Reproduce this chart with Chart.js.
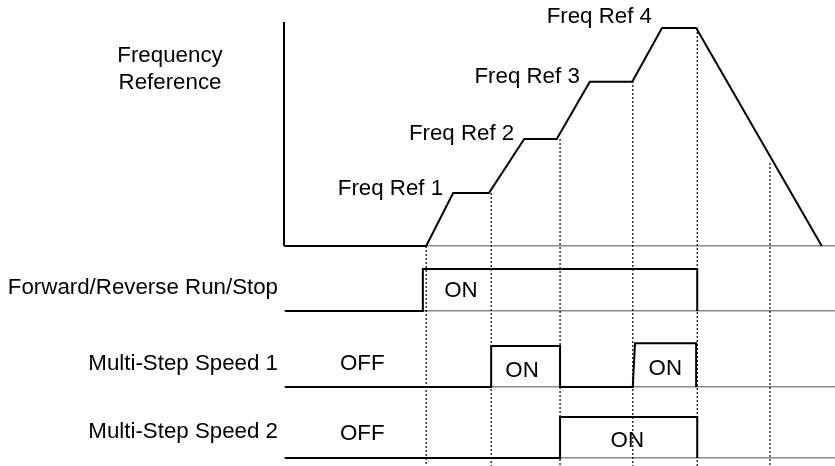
<!DOCTYPE html>
<html>
<head>
<meta charset="utf-8">
<script src="https://cdn.jsdelivr.net/npm/chart.js@4"></script>
<style>
  html, body { margin: 0; padding: 0; background: #fff; }
  #wrap { width: 835px; height: 466px; position: relative; }
</style>
</head>
<body>
<div id="wrap"><canvas id="timing"></canvas></div>
<script>
// time runs 0..100 across the plot
const markTimes = [25.8, 37.6, 50.1, 63.3, 75.0, 88.2];
const markTops = [0, 24.3, 49.1, 75.7, 100, 38.1];

// frequency reference in % of Freq Ref 4
const freqTimes = [0, 25.8, 30.7, 37.2, 43.6, 49.5, 55.5, 63.2, 68.6, 74.8, 97.6];
const freqValues = [0, 0, 24.3, 24.3, 49.1, 49.1, 75.3, 75.3, 100, 100, 0];
const freqAxisTop = 102.8;
const refNames = ["Freq Ref 1", "Freq Ref 2", "Freq Ref 3", "Freq Ref 4"];

// digital inputs (0 = OFF, 1 = ON)
const runTimes = [0.2, 25.2, 25.2, 75.0, 75.0];
const runLevels = [0, 0, 1, 1, 0];
const ms1Times = [0.2, 37.6, 37.6, 50.1, 50.1, 63.3, 63.7, 74.8, 74.8];
const ms1Levels = [0, 0, 1, 1, 0, 0, 1.07, 1.07, 0];
const ms2Times = [0.2, 50.1, 50.1, 75.0, 75.0];
const ms2Levels = [0, 0, 1, 1, 0];

const rowIds = ["run", "ms1", "ms2"];
const rowNames = ["Forward/Reverse Run/Stop", "Multi-Step Speed 1", "Multi-Step Speed 2"];

// ON / OFF captions
const stateText = ["OFF", "OFF", "ON", "ON", "ON", "ON"];
const stateRow = ["ms1", "ms2", "run", "ms1", "ms1", "ms2"];
const stateTimes = [14.2, 14.2, 32.1, 43.2, 69.2, 62.3];
const stateLevels = [0.41, 0.44, 0.33, 0.24, 0.29, 0.27];

// layout: every row gets its own full-height axis, shifted so its zero lands in place
const H = 466;
function rowRange(zeroPx, pxPerUnit) {
    return { min: -(H - zeroPx) / pxPerUnit, max: zeroPx / pxPerUnit };
}
const freqRange = rowRange(246, 2.18);
const runRange = rowRange(311, 42);
const ms1Range = rowRange(387, 41);
const ms2Range = rowRange(458, 41);

const refBaseline = [2, 1, 1, -5];
const rowNameLift = [17, 17, 20];
const FONT = '22.3px "Liberation Sans", Arial, sans-serif';

function pts(xs, ys) {
    return xs.map((x, i) => ({ x: x, y: ys[i] }));
}

function signal(data, yAxisID) {
    return {
        data: data,
        yAxisID: yAxisID,
        borderColor: '#000',
        borderWidth: 2,
        pointRadius: 0,
        tension: 0,
        fill: false,
        clip: false,
        borderJoinStyle: 'miter'
    };
}

function rowAxis(range) {
    return {
        type: 'linear',
        position: 'left',
        min: range.min,
        max: range.max,
        afterBuildTicks: axis => { axis.ticks = [{ value: 0 }]; },
        ticks: { display: false },
        border: { display: false },
        grid: { color: '#8a8a8a', lineWidth: 1.5, drawTicks: false }
    };
}

const datasets = [
    signal(pts([0, 0], [freqAxisTop, 0]), 'freq'),
    signal(pts(freqTimes, freqValues), 'freq'),
    signal(pts(runTimes, runLevels), 'run'),
    signal(pts(ms1Times, ms1Levels), 'ms1'),
    signal(pts(ms2Times, ms2Levels), 'ms2')
];

// dotted guides from the curve down to the bottom
markTimes.forEach((t, i) => {
    datasets.push({
        data: pts([t, t], [markTops[i], freqRange.min]),
        yAxisID: 'freq',
        borderColor: '#000',
        borderWidth: 1.2,
        borderDash: [2, 2],
        pointRadius: 0,
        fill: false,
        clip: false
    });
});

const textPlugin = {
    id: 'timingText',
    afterDatasetsDraw(chart) {
        const ctx = chart.ctx;
        const x = chart.scales.x;
        const fy = chart.scales.freq;
        const area = chart.chartArea;
        ctx.save();
        ctx.font = FONT;
        ctx.fillStyle = '#000';
        ctx.textBaseline = 'alphabetic';

        ctx.textAlign = 'center';
        const top = fy.getPixelForValue(freqAxisTop);
        ctx.fillText('Frequency', area.left - 114, top + 40);
        ctx.fillText('Reference', area.left - 114, top + 67);

        ctx.textAlign = 'right';
        refNames.forEach((name, i) => {
            const k = 2 + 2 * i;
            ctx.fillText(name, x.getPixelForValue(freqTimes[k]) - 10,
                fy.getPixelForValue(freqValues[k]) + refBaseline[i]);
        });

        rowIds.forEach((id, i) => {
            ctx.fillText(rowNames[i], area.left - 6,
                chart.scales[id].getPixelForValue(0) - rowNameLift[i]);
        });

        ctx.textAlign = 'center';
        stateText.forEach((s, i) => {
            ctx.fillText(s, x.getPixelForValue(stateTimes[i]),
                chart.scales[stateRow[i]].getPixelForValue(stateLevels[i]));
        });
        ctx.restore();
    }
};

new Chart(document.getElementById('timing').getContext('2d'), {
    type: 'line',
    data: { datasets: datasets },
    options: {
        responsive: true,
        maintainAspectRatio: false,
        animation: false,
        events: [],
        layout: { padding: { left: 284, top: 0, right: 0, bottom: 0 }, autoPadding: false },
        plugins: {
            legend: { display: false },
            tooltip: { enabled: false }
        },
        scales: {
            x: { type: 'linear', min: 0, max: 100, display: false },
            freq: rowAxis(freqRange),
            run: rowAxis(runRange),
            ms1: rowAxis(ms1Range),
            ms2: rowAxis(ms2Range)
        }
    },
    plugins: [textPlugin]
});
</script>
</body>
</html>
